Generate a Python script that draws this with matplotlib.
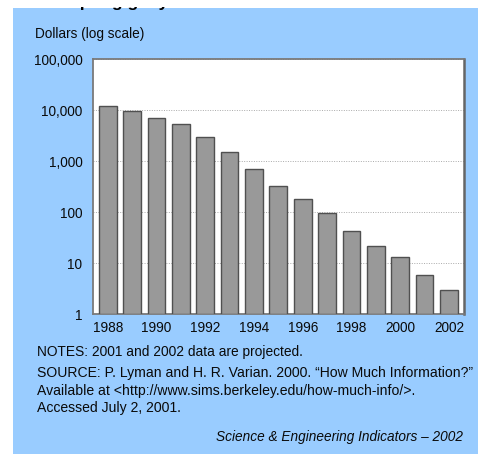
import matplotlib
matplotlib.use('Agg')
import matplotlib.pyplot as plt
from matplotlib.patches import Rectangle
from matplotlib.transforms import Bbox
from matplotlib.ticker import FixedLocator, NullLocator

plt.rcParams['font.family'] = ['Liberation Sans', 'DejaVu Sans']

years = [1988, 1989, 1990, 1991, 1992, 1993, 1994, 1995,
         1996, 1997, 1998, 1999, 2000, 2001, 2002]
# dollars per gigabyte
cost = [12300, 9700, 6970, 5300, 3030, 1520, 710, 330,
        180, 95, 43, 22, 13, 6, 3]

y_ticks = [1, 10, 100, 1000, 10000, 100000]
y_labels = ['1', '10', '100', '1,000', '10,000', '100,000']
x_labels = [str(y) if y % 2 == 0 else '' for y in years]

notes = 'NOTES: 2001 and 2002 data are projected.'
source = ['SOURCE: P. Lyman and H. R. Varian. 2000. \u201cHow Much Information?\u201d',
          'Available at <http://www.sims.berkeley.edu/how-much-info/>.',
          'Accessed July 2, 2001.']
credit = 'Science & Engineering Indicators \u2013 2002'

W, H = 478, 454
fig = plt.figure(figsize=(W / 100, H / 100), dpi=100)
fig.patch.set_facecolor('white')

# light blue panel
fig.patches.append(Rectangle((13 / W, 0), 1 - 13 / W, (H - 8) / H,
                             transform=fig.transFigure, facecolor='#99ccff',
                             edgecolor='none', zorder=-5))

# title cut off at the top edge: only the descenders show
t = fig.text(36 / W, 1 - 6.5 / H, 'Cost per gigabyte', fontsize=12.6,
             fontweight='bold', va='baseline', ha='left', zorder=5)
t.set_clip_box(Bbox([[0, 0], [W, H - 7]]))
t.set_clip_on(True)

ax = fig.add_axes([92.7 / W, (H - 314.3) / H, (464 - 92.7) / W, (314.3 - 59.3) / H])
ax.set_facecolor('white')
x = list(range(len(years)))
ax.bar(x, [c - 1 for c in cost], bottom=1, width=0.727, color='#999999',
       edgecolor='#505050', linewidth=1.0, zorder=3)

ax.set_yscale('log')
ax.set_ylim(1, 100000)
ax.set_xlim(-0.62, len(years) - 1 + 0.62)
ax.yaxis.set_major_locator(FixedLocator(y_ticks))
ax.set_yticklabels(y_labels)
ax.yaxis.set_minor_locator(NullLocator())
ax.set_xticks(x)
ax.set_xticklabels(x_labels)
ax.tick_params(axis='both', length=0, labelsize=9.8, colors='#0a0a0a')
ax.tick_params(axis='y', pad=7.5)
ax.tick_params(axis='x', pad=5)
ax.grid(axis='y', linestyle=(0, (1, 1.5)), color='#aaaaaa', linewidth=0.7, zorder=1)
for s in ax.spines.values():
    s.set_color('#7a7a7a')
    s.set_linewidth(1.3)
ax.spines['right'].set_color('#666666')
ax.spines['right'].set_linewidth(1.8)

fig.text(35 / W, 1 - 38 / H, 'Dollars (log scale)', fontsize=9.8, va='baseline', color='#0a0a0a')

fig.text(37 / W, 1 - 356 / H, notes, fontsize=9.9, va='baseline', color='#0a0a0a')
for i, line in enumerate(source):
    fig.text(37 / W, 1 - (377 + 17.5 * i) / H, line, fontsize=10.1,
             va='baseline', color='#0a0a0a')
fig.text(463 / W, 1 - 441 / H, credit, fontsize=9.8, style='italic',
         ha='right', va='baseline', color='#0a0a0a')

fig.savefig('out.png', dpi=100)
